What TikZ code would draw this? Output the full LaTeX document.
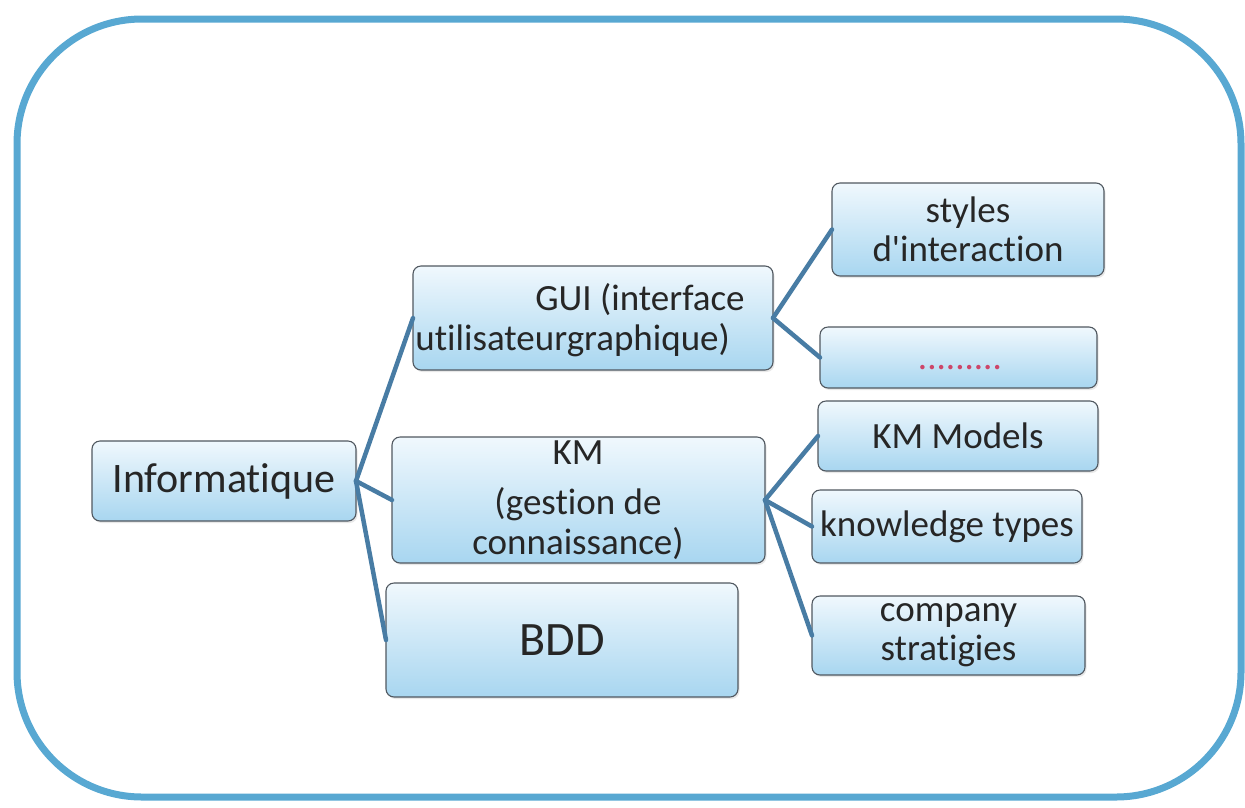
\documentclass[tikz,border=0pt]{standalone}
\usepackage{fontspec}
\setmainfont{Carlito}[Ligatures={NoCommon}]
\usetikzlibrary{shadows}
\definecolor{framecol}{RGB}{88,168,210}
\definecolor{linkcol}{RGB}{72,124,164}
\definecolor{boxtop}{RGB}{240,248,253}
\definecolor{boxbot}{RGB}{168,214,240}
\definecolor{boxedge}{RGB}{80,88,96}
\definecolor{inkcol}{RGB}{38,38,38}
\definecolor{dotcol}{RGB}{205,70,105}
\tikzset{
  topic/.style={draw=boxedge, line width=1.1pt, rounded corners=8pt,
    top color=boxtop, bottom color=boxbot, inner sep=0pt, outer sep=0pt,
    text=inkcol, font=\fontsize{37}{39}\selectfont, align=center,
    drop shadow={opacity=0.18, shadow xshift=1.5pt, shadow yshift=-2pt}},
  caption/.style={text=inkcol, inner sep=0pt, align=center,
    font=\fontsize{37}{40}\selectfont},
  link/.style={draw=linkcol, line width=4.5pt, line cap=round}
}
\begin{document}
\begin{tikzpicture}[x=1pt,y=-1pt]
\useasboundingbox (0,0) rectangle (1245,807);
% outer frame
\draw[framecol, line width=7pt, rounded corners=125pt] (17,19) rectangle (1241,797);

% boxes
\node[topic, minimum width=264pt, minimum height=80pt, font=\fontsize{42}{50}\selectfont] (inf) at (224,481) {Informatique};
\node[topic, minimum width=360pt, minimum height=104pt] (gui) at (593,318) {};
\node[topic, minimum width=373pt, minimum height=126pt] (km) at (578.5,500) {};
\node[topic, minimum width=352pt, minimum height=114pt, font=\fontsize{48}{56}\selectfont] (bdd) at (562,640) {BDD};
\node[topic, minimum width=272pt, minimum height=93pt] (sty) at (968,229.5) {styles\\d\textquotesingle interaction};
\node[topic, minimum width=277pt, minimum height=61pt] (dots) at (958.5,357.5) {};
\node[topic, minimum width=280pt, minimum height=70pt] (kmm) at (958,436) {KM Models};
\node[topic, minimum width=270pt, minimum height=73pt] (kt) at (947,526.5) {knowledge types};
\node[topic, minimum width=273pt, minimum height=79pt] (cs) at (948.5,635.5) {company\\stratigies};

% captions of the two wide boxes
\node[caption, align=left] (guitext) at (580,320) {\hspace*{120pt}GUI (interface\\utilisateurgraphique)};
\node[caption] (kmtext) at (578,500) {KM\\[10pt](gestion de\\connaissance)};
\node[caption, text=dotcol, font=\fontsize{37}{40}\selectfont] (dotstext) at (960,368) {.........};

% connectors
\draw[link] (inf.east) -- (gui.west);
\draw[link] (inf.east) -- (km.west);
\draw[link] (inf.east) -- (bdd.west);
\draw[link] (gui.east) -- (sty.west);
\draw[link] (gui.east) -- (dots.west);
\draw[link] (km.east) -- (kmm.west);
\draw[link] (km.east) -- (kt.west);
\draw[link] (km.east) -- (cs.west);
\end{tikzpicture}
\end{document}
